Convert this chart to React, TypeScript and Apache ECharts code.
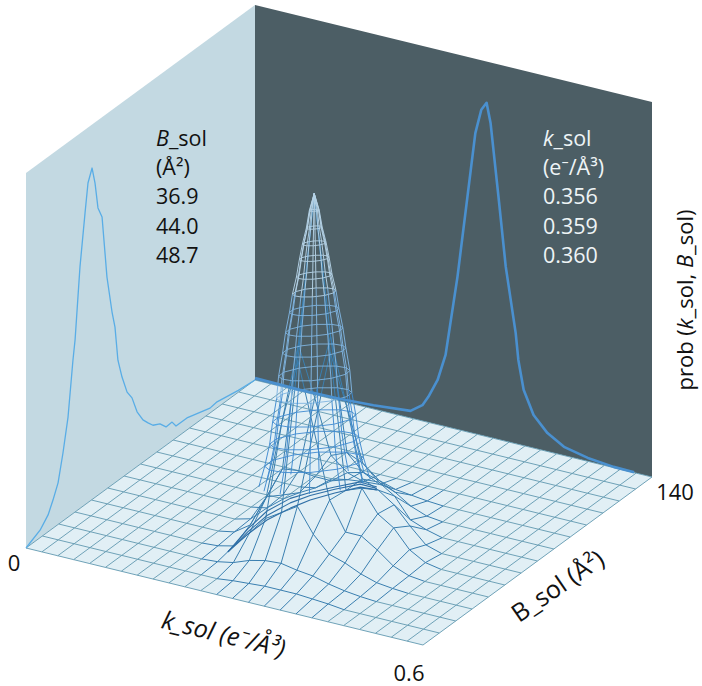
import React, { useEffect, useRef } from "react";
import * as echarts from "echarts";

// value-space limits of the three plot axes
const kRange = [0, 0.6];
const bRange = [0, 140];
const probTop = 1;

// mesh lines on the floor
const kMesh = [0, 0.024, 0.048, 0.072, 0.096, 0.12, 0.144, 0.168, 0.192, 0.216, 0.24, 0.264, 0.288, 0.312, 0.336, 0.36, 0.384, 0.408, 0.432, 0.456, 0.48, 0.504, 0.528, 0.552, 0.576, 0.6];
const bMesh = [0, 10, 20, 30, 40, 50, 60, 70, 80, 90, 100, 110, 120, 130, 140];

// joint probability on the mesh, rows B = 0..90, columns k index 8..21
const probFirstK = 8;
const probRows = [
  [0, 0, 0, 0, 0, 0, 0, 0, 0, 0, 0, 0, 0, 0],
  [0, 0, 0, 0, 0.005, 0.008, 0.011, 0.011, 0.011, 0.008, 0.005, 0, 0, 0],
  [0, 0, 0.003, 0.011, 0.027, 0.037, 0.04, 0.032, 0.027, 0.016, 0.008, 0.003, 0, 0],
  [0, 0.003, 0.013, 0.059, 0.107, 0.133, 0.16, 0.096, 0.053, 0.04, 0.021, 0.008, 0.003, 0],
  [0, 0.008, 0.037, 0.12, 0.333, 0.507, 0.333, 0.155, 0.08, 0.08, 0.053, 0.021, 0.005, 0],
  [0, 0.011, 0.08, 0.165, 0.507, 0.92, 0.507, 0.149, 0.165, 0.107, 0.08, 0.032, 0.008, 0],
  [0, 0.008, 0.053, 0.128, 0.333, 0.507, 0.333, 0.147, 0.128, 0.099, 0.053, 0.013, 0, 0],
  [0, 0, 0.027, 0.08, 0.147, 0.165, 0.147, 0.107, 0.08, 0.027, 0.011, 0, 0, 0],
  [0, 0, 0.008, 0.037, 0.069, 0.08, 0.069, 0.048, 0.021, 0.005, 0, 0, 0, 0],
  [0, 0, 0, 0.008, 0.013, 0.016, 0.013, 0.008, 0.003, 0, 0, 0, 0, 0],
];

// crowded strands where the peak's flank folds over, as [k, B, prob]
const ridgeK = [0.235, 0.23, 0.23, 0.238, 0.248, 0.265, 0.285, 0.308];
const ridgeB = [28.4, 42.7, 54.3, 65.3, 73.4, 81.6, 89.1, 89.9];
const ridgeProbStrands = [
  [0, 0, 0, 0, 0, 0, 0, 0],
  [0, 0.006, 0.012, 0.014, 0.012, 0.01, 0.008, 0.004],
  [0, 0.014, 0.024, 0.026, 0.02, 0.016, 0.014, 0.008],
];

// the fine rings round the peak
const peakK = 0.312;
const peakB = 50;
const peakProb = 0.92;
const ringProb = [0.875, 0.829, 0.787, 0.747, 0.701, 0.656, 0.608, 0.555, 0.501, 0.44, 0.381, 0.32, 0.261, 0.203, 0.149];
const ringSpreadK = [0.005, 0.008, 0.012, 0.015, 0.018, 0.022, 0.025, 0.029, 0.032, 0.036, 0.038, 0.042, 0.045, 0.05, 0.056];
const meridianDeg = [0, 28, 62, 95, 128, 155, 180, 212, 245, 275, 308, 335];

// marginal on the B wall
const marginalB = [0, 8.6, 13.5, 16.5, 19.6, 22.6, 25.7, 28.7, 30, 33, 36.1, 37.9, 40.4, 42.2, 44, 46.5, 49.5, 52.6, 54.4, 56.2, 58.7, 61.8, 64.8, 67.9, 71.5, 74.6, 77.6, 81.9, 85.6, 89.3, 91.7, 98.4, 112.5, 116.8, 129.8, 140];
const marginalBProb = [0, 0.02, 0.045, 0.075, 0.111, 0.181, 0.267, 0.409, 0.459, 0.644, 0.778, 0.852, 0.884, 0.838, 0.766, 0.734, 0.564, 0.461, 0.415, 0.321, 0.268, 0.218, 0.193, 0.146, 0.113, 0.095, 0.079, 0.069, 0.049, 0.05, 0.032, 0.032, 0.013, 0.016, 0.005, 0];

// marginal on the k wall
const marginalK = [0, 0.068, 0.129, 0.179, 0.235, 0.253, 0.262, 0.276, 0.288, 0.306, 0.321, 0.333, 0.342, 0.35, 0.356, 0.368, 0.379, 0.394, 0.398, 0.406, 0.421, 0.442, 0.467, 0.503, 0.542, 0.573];
const marginalKProb = [0.005, 0.003, 0.005, 0.01, 0.019, 0.042, 0.068, 0.119, 0.191, 0.407, 0.626, 0.802, 0.868, 0.89, 0.839, 0.647, 0.465, 0.295, 0.225, 0.149, 0.088, 0.049, 0.023, 0.009, 0.002, 0.001];

const bColumn = ["36.9", "44.0", "48.7"];
const kColumn = ["0.356", "0.359", "0.360"];

type P3 = [number, number, number];
type Mark = { pts: P3[]; stroke?: string; width?: number; fill?: string };

const project = ([k, b, p]: P3): [number, number] => {
  const u = k / kRange[1];
  const v = b / bRange[1];
  return [26 + 397 * u + 229 * v, 548 + 97 * u - 168 * v - 375 * (p / probTop)];
};

const probAt = (i: number, j: number) => {
  const row = probRows[j];
  if (!row) return 0;
  const c = i - probFirstK;
  return c >= 0 && c < row.length ? row[c] : 0;
};

function buildMarks(): Mark[] {
  const marks: Mark[] = [];
  const [k0, k1] = kRange;
  const [b0, b1] = bRange;
  marks.push({ pts: [[k0, b0, 0], [k0, b0, probTop], [k0, b1, probTop], [k0, b1, 0]], fill: "#c3d9e2" });
  marks.push({ pts: [[k0, b1, 0], [k0, b1, probTop], [k1, b1, probTop], [k1, b1, 0]], fill: "#4c5e65" });
  marks.push({ pts: [[k0, b0, 0], [k1, b0, 0], [k1, b1, 0], [k0, b1, 0]], fill: "#e1eff5" });

  const flat = "#6199b0";
  const raised = "#3a7fb0";
  const seg = (a: P3, b: P3) => {
    const up = a[2] > 0 || b[2] > 0;
    marks.push({ pts: [a, b], stroke: up ? raised : flat, width: up ? 1 : 0.9 });
  };
  bMesh.forEach((b, j) => {
    for (let i = 0; i + 1 < kMesh.length; i++) {
      seg([kMesh[i], b, probAt(i, j)], [kMesh[i + 1], b, probAt(i + 1, j)]);
    }
  });
  kMesh.forEach((k, i) => {
    for (let j = 0; j + 1 < bMesh.length; j++) {
      seg([k, bMesh[j], probAt(i, j)], [k, bMesh[j + 1], probAt(i, j + 1)]);
    }
  });

  ridgeProbStrands.forEach((strand) => {
    marks.push({
      pts: ridgeK.map((k, n) => [k, ridgeB[n], strand[n]] as P3),
      stroke: "#2f6fa6",
      width: 1.1,
    });
  });

  const ringPoint = (r: number, deg: number, p: number): P3 => {
    const c = Math.cos((deg * Math.PI) / 180);
    const s = Math.sin((deg * Math.PI) / 180);
    return [peakK + r * (c + 0.306 * s), peakB + r * (200.7 * c - 123.8 * s), p];
  };
  const tint = (p: number) => (p > 0.62 ? "#b4d2e6" : p > 0.36 ? "#7fb4e0" : "#3f8ad0");
  ringProb.slice(0, 14).forEach((p, n) => {
    const r = ringSpreadK[n];
    const loop = [...meridianDeg, meridianDeg[0]].map((d) => ringPoint(r, d, p));
    marks.push({ pts: loop, stroke: tint(p), width: 0.9 });
  });
  meridianDeg.forEach((d) => {
    let prev: P3 = [peakK, peakB, peakProb];
    ringProb.forEach((p, n) => {
      const cur = ringPoint(ringSpreadK[n], d, p);
      marks.push({ pts: [prev, cur], stroke: tint(p), width: 0.95 });
      prev = cur;
    });
  });

  marks.push({
    pts: marginalB.map((b, n) => [k0, b, marginalBProb[n]] as P3),
    stroke: "#59ade6",
    width: 1.3,
  });
  marks.push({
    pts: marginalK.map((k, n) => [k, b1, marginalKProb[n]] as P3),
    stroke: "#4a90cf",
    width: 2.6,
  });
  return marks;
}

const FONT = "'Open Sans', 'Noto Sans', sans-serif";

function label(text: string, x: number, y: number, size: number, fill: string, rotation = 0, italicStyle = false, align = "left") {
  return {
    type: "text",
    x,
    y,
    z: 100,
    rotation,
    silent: true,
    style: {
      text,
      fill,
      fontFamily: FONT,
      fontSize: size,
      fontStyle: italicStyle ? "italic" : "normal",
      align,
      verticalAlign: "middle",
      rich: {
        i: { fontFamily: FONT, fontSize: size, fontStyle: "italic", fill },
      },
    },
  };
}

export default function App() {
  const ref = useRef<HTMLDivElement>(null);
  useEffect(() => {
    if (!ref.current) return;
    const chart = echarts.init(ref.current, undefined, { renderer: "svg" });
    const marks = buildMarks();
    chart.setOption({
      animation: false,
      backgroundColor: "#ffffff",
      grid: { left: 0, right: 0, top: 0, bottom: 0 },
      xAxis: { type: "value", min: 0, max: 702, show: false },
      yAxis: { type: "value", min: 0, max: 686, inverse: true, show: false },
      series: [
        {
          type: "custom",
          coordinateSystem: "cartesian2d",
          silent: true,
          clip: false,
          progressive: 0,
          z: 2,
          data: marks.map((_, n) => [0, 0, n]),
          renderItem: (params: any, api: any) => {
            const m = marks[params.dataIndex];
            const points = m.pts.map((q) => api.coord(project(q)));
            if (m.fill) {
              return { type: "polygon", shape: { points }, style: { fill: m.fill, stroke: "none" } };
            }
            return {
              type: "polyline",
              shape: { points },
              style: { fill: "none", stroke: m.stroke, lineWidth: m.width, lineJoin: "round" },
            };
          },
        },
      ],
      graphic: {
        elements: [
          label("{i|B}_sol", 156, 137, 21.5, "#111111"),
          label("(Å²)", 156, 166, 21.5, "#111111"),
          label(bColumn[0], 156, 195, 21.5, "#111111"),
          label(bColumn[1], 156, 225, 21.5, "#111111"),
          label(bColumn[2], 156, 254, 21.5, "#111111"),
          label("{i|k}_sol", 543, 137, 21.5, "#eef4f6"),
          label("(e⁻/Å³)", 543, 166, 21.5, "#eef4f6"),
          label(kColumn[0], 543, 195, 21.5, "#eef4f6"),
          label(kColumn[1], 543, 225, 21.5, "#eef4f6"),
          label(kColumn[2], 543, 254, 21.5, "#eef4f6"),
          label("0", 14, 562, 22, "#111111", 0, false, "center"),
          label("140", 675, 491, 22, "#111111", 0, false, "center"),
          label("0.6", 409, 672, 22, "#111111", 0, false, "center"),
          label("k_sol (e⁻/Å³)", 224, 633, 25, "#111111", -0.24, true, "center"),
          label("B_sol (Å²)", 557, 585, 25, "#111111", 0.6, false, "center"),
          label("prob ({i|k}_sol, {i|B}_sol)", 684, 300, 22, "#111111", Math.PI / 2, false, "center"),
        ],
      },
    });
    return () => chart.dispose();
  }, []);
  return <div ref={ref} style={{ position: "absolute", left: 0, top: 0, width: 702, height: 686 }} />;
}
